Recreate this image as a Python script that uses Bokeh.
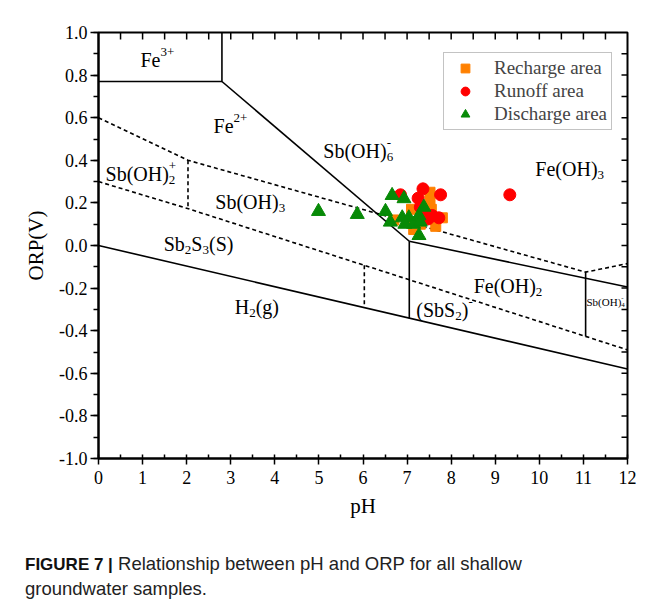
from bokeh.plotting import figure
from bokeh.layouts import column
from bokeh.models import (Range1d, SingleIntervalTicker, NumeralTickFormatter,
                          ColumnDataSource, Legend, LegendItem, Div)
from bokeh.embed import file_html
from bokeh.resources import INLINE
from bokeh.core.properties import value

# ---------------- data ----------------
recharge_ph = [7.52, 7.52, 7.55, 6.70, 7.10, 7.15, 7.65, 7.80, 7.30, 7.05, 7.60]
recharge_orp = [0.25, 0.21, 0.17, 0.12, 0.17, 0.075, 0.09, 0.13, 0.10, 0.11, 0.13]

runoff_ph = [6.85, 7.36, 7.25, 7.76, 9.33, 7.30, 7.57, 7.72, 7.40, 7.48]
runoff_orp = [0.238, 0.266, 0.222, 0.238, 0.238, 0.18, 0.141, 0.13, 0.15, 0.125]

discharge_ph = [4.99, 5.87, 6.51, 6.66, 6.93, 6.62, 6.89, 7.04, 7.15, 7.27, 7.38, 7.30, 7.27, 6.95]
discharge_orp = [0.16, 0.146, 0.16, 0.235, 0.22, 0.11, 0.13, 0.13, 0.10, 0.14, 0.18, 0.11, 0.047, 0.10]

# stability-field boundaries (pH, Eh)
solid_lines = [
    ([0, 2.8, 2.8], [0.77, 0.77, 1.0]),          # Fe3+ field
    ([2.8, 7.05], [0.77, 0.02]),                 # Fe2+ / Fe(OH)3
    ([7.05, 12], [0.02, -0.195]),                # Fe(OH)3 / Fe(OH)2
    ([0, 12], [0.0, -0.58]),                     # H2(g)
    ([7.05, 7.05], [0.02, -0.341]),              # Fe2+ / Fe(OH)2
    ([11.05, 11.05], [-0.125, -0.427]),          # Sb(OH)4-
]
dashed_lines = [
    ([0, 2.03, 11.05, 12], [0.60, 0.40, -0.125, -0.085]),
    ([0, 2.0, 12], [0.30, 0.175, -0.49]),
    ([2.03, 2.03], [0.40, 0.175]),
    ([6.03, 6.03], [-0.093, -0.291]),
]

# inner ticks of the top and right frame edges
top_ticks = [0.5, 1, 1.5, 2, 2.5, 3, 3.5, 4, 4.5, 5, 5.5, 6, 6.5, 7, 7.5, 8, 8.5, 9, 9.5,
             10, 10.5, 11, 11.5]
right_ticks = [-0.9, -0.8, -0.7, -0.6, -0.5, -0.4, -0.3, -0.2, -0.1, 0.0, 0.1, 0.2, 0.3,
               0.4, 0.5, 0.6, 0.7, 0.8, 0.9]

# field labels: (pH, Eh, [(text, kind)], font px)
field_labels = [
    (0.95, 0.873, [("Fe", "n"), ("3+", "sup")], 20),
    (2.61, 0.559, [("Fe", "n"), ("2+", "sup")], 20),
    (5.10, 0.446, [("Sb(OH)", "n"), ("6", "sub"), ("-", "sup")], 20),
    (9.91, 0.361, [("Fe(OH)", "n"), ("3", "sub")], 20),
    (0.16, 0.338, [("Sb(OH)", "n"), ("2", "sub"), ("+", "sup")], 20),
    (2.65, 0.203, [("Sb(OH)", "n"), ("3", "sub")], 20),
    (1.48, 0.005, [("Sb", "n"), ("2", "sub"), ("S", "n"), ("3", "sub"), ("(S)", "n")], 20),
    (3.09, -0.290, [("H", "n"), ("2", "sub"), ("(g)", "n")], 20),
    (8.51, -0.188, [("Fe(OH)", "n"), ("2", "sub")], 20),
    (7.21, -0.305, [("(SbS", "n"), ("2", "sub"), (")", "n"), ("-", "sup")], 20),
    (11.07, -0.266, [("Sb(OH)", "n"), ("4", "sub"), ("-", "sup")], 11),
]

caption_bold = "FIGURE 7 |"
caption_line1 = "Relationship between pH and ORP for all shallow"
caption_line2 = "groundwater samples."

# Times-like advance widths (em)
W = {"S": .556, "b": .5, "(": .333, ")": .333, "O": .722, "H": .722, "F": .556,
     "e": .444, "g": .5, "2": .5, "3": .5, "4": .5, "6": .5, "+": .564, "-": .333}

rows = dict(x=[], y=[], text=[], xo=[], yo=[], size=[])
for lx, ly, parts, fs in field_labels:
    off = 0.0
    for i, (t, kind) in enumerate(parts):
        if kind == "n":
            s, yo = fs, 0
        elif kind == "sub":
            s, yo = round(fs * 0.65), round(fs * 0.3)
        else:
            s, yo = round(fs * 0.65), -round(fs * 0.38)
        rows["x"].append(lx); rows["y"].append(ly); rows["text"].append(t)
        rows["xo"].append(off); rows["yo"].append(yo); rows["size"].append(f"{s}px")
        nxt = parts[i + 1][1] if i + 1 < len(parts) else None
        if not (kind == "sub" and nxt == "sup"):
            off += sum(W.get(c, .5) for c in t) * s
label_src = ColumnDataSource(rows)

SERIF = "Liberation Serif"

p = figure(width=642, height=525, x_range=Range1d(0, 12), y_range=Range1d(-1, 1),
           output_backend="svg", toolbar_location=None,
           min_border_left=98, min_border_right=15, min_border_top=32, min_border_bottom=67,
           x_axis_label="pH", y_axis_label="ORP(V)")
p.outline_line_color = "black"
p.outline_line_width = 2
p.grid.visible = False
p.background_fill_color = "white"
p.border_fill_color = "white"

for ax in (p.xaxis[0], p.yaxis[0]):
    ax.axis_line_width = 2
    ax.major_tick_line_width = 1.5
    ax.minor_tick_line_width = 1.5
    ax.major_label_text_font = SERIF
    ax.major_label_text_font_size = "18px"
    ax.major_label_text_color = "black"
    ax.axis_label_text_font = SERIF
    ax.axis_label_text_font_size = "21px"
    ax.axis_label_text_font_style = "normal"
    ax.axis_label_text_color = "black"

p.xaxis[0].ticker = SingleIntervalTicker(interval=1, num_minor_ticks=2)
p.xaxis[0].major_tick_out = 6
p.xaxis[0].major_tick_in = 0
p.xaxis[0].minor_tick_out = 0
p.xaxis[0].minor_tick_in = 4
p.xaxis[0].major_label_standoff = 6
p.xaxis[0].axis_label_standoff = 7

p.yaxis[0].ticker = SingleIntervalTicker(interval=0.2, num_minor_ticks=2)
p.yaxis[0].formatter = NumeralTickFormatter(format="0.0")
p.yaxis[0].major_tick_out = 8
p.yaxis[0].major_tick_in = 0
p.yaxis[0].minor_tick_out = 5
p.yaxis[0].minor_tick_in = 0
p.yaxis[0].major_label_standoff = 3
p.yaxis[0].axis_label_standoff = 8

# inward ticks on top and right edges (7 px / 6 px long)
ty = 7 / 213.0
rx = 6 / 44.08
p.segment(x0=top_ticks, y0=[1.0] * len(top_ticks), x1=top_ticks, y1=[1.0 - ty] * len(top_ticks),
          line_color="black", line_width=1.5)
p.segment(x0=[12.0] * len(right_ticks), y0=right_ticks, x1=[12.0 - rx] * len(right_ticks),
          y1=right_ticks, line_color="black", line_width=1.5)

for xs, ys in solid_lines:
    p.line(xs, ys, line_color="black", line_width=1.6)
for xs, ys in dashed_lines:
    p.line(xs, ys, line_color="black", line_width=1.6, line_dash="4 3")

p.text(x="x", y="y", text="text", x_offset="xo", y_offset="yo", text_font_size="size",
       text_font=value(SERIF), text_baseline="middle", text_align="left",
       text_color="black", source=label_src)

r1 = p.scatter(recharge_ph, recharge_orp, marker="square", size=10, color="#FF8000")
r2 = p.scatter(runoff_ph, runoff_orp, marker="circle", size=12, color="#FF0000")
r3 = p.scatter(discharge_ph, discharge_orp, marker="triangle", size=14, color="#078A07")

legend = Legend(items=[LegendItem(label="Recharge area", renderers=[r1]),
                       LegendItem(label="Runoff area", renderers=[r2]),
                       LegendItem(label="Discharge area", renderers=[r3])],
                location=(345, 328), padding=4, spacing=1, margin=0,
                glyph_width=34, glyph_height=22, label_height=22, label_standoff=12,
                label_text_font=SERIF, label_text_font_size="19px",
                border_line_color="#888888", border_line_width=1,
                background_fill_alpha=1)
p.add_layout(legend)

# caption
cap = Div(width=642, height=80, text=(
    '<div style="padding:22px 0 0 20px;font-family:\'Liberation Sans\',sans-serif;'
    'font-size:18.5px;line-height:24px;color:#222;">'
    f'<b style="font-size:17px;color:#111;">{caption_bold}</b>&nbsp;{caption_line1}<br>'
    f'{caption_line2}</div>'))

layout = column(p, cap, spacing=0)
open("out.html", "w").write(file_html(layout, INLINE))
